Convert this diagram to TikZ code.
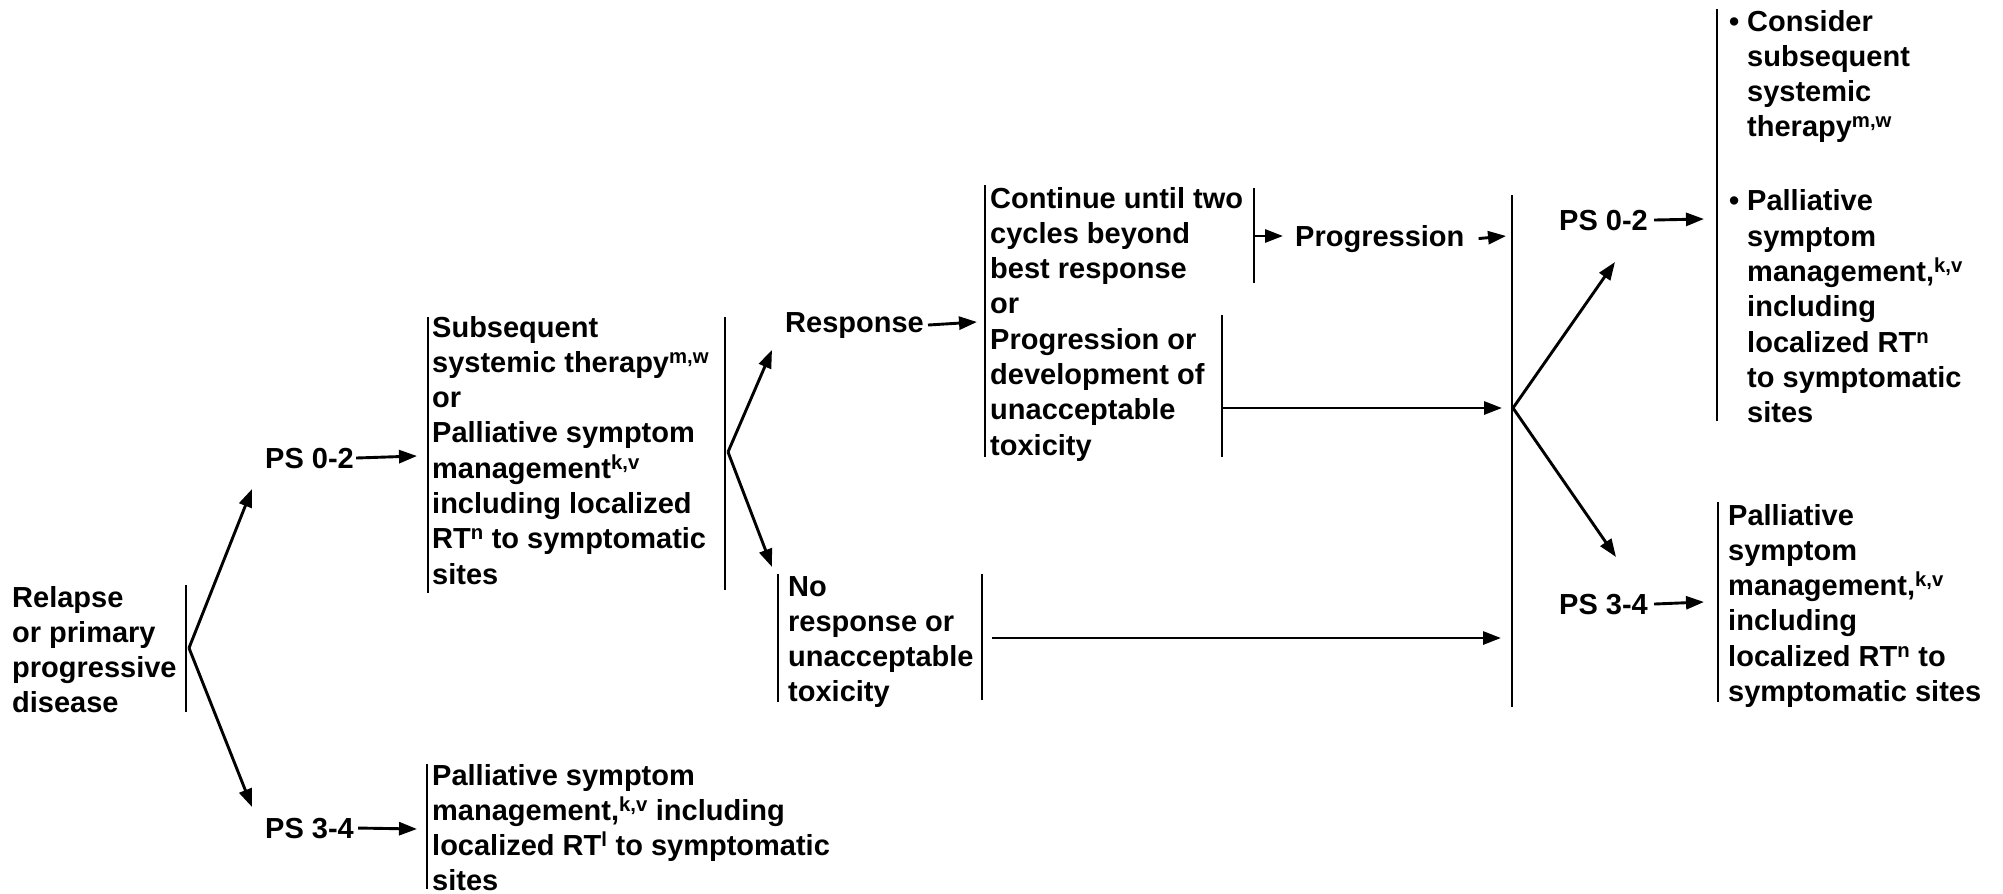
\documentclass[tikz,border=0pt]{standalone}
\usepackage{fontspec}
\setmainfont{Liberation Sans}
\usetikzlibrary{arrows.meta}
\newcommand{\sq}[1]{\textsuperscript{#1}}
\newcommand{\bl}{\makebox[18pt][l]{\textbullet}}
\newcommand{\nb}{\hspace*{18pt}}
\newcommand{\lines}[1]{\begin{tabular}[t]{@{}l@{}}#1\end{tabular}}
\begin{document}
\begin{tikzpicture}[x=1pt,y=-1pt,
  txt/.style={anchor=base west, inner sep=0pt, font=\fontsize{29}{35.3}\selectfont\bfseries},
  barline/.style={line width=2.9pt},
  arr/.style={line width=2.9pt,-{Triangle[length=18pt,width=13pt]}}]
\useasboundingbox (0,0) rectangle (2003,894);

% text nodes
\node[txt] (relapse) at (12,607) {\lines{Relapse\\or primary\\progressive\\disease}};
\node[txt] (ps02a) at (265,468) {PS 0-2};
\node[txt] (ps34a) at (265,838) {PS 3-4};
\node[txt] (sub) at (432,337) {\lines{Subsequent\\systemic therapy\sq{m,w}\\or\\Palliative symptom\\management\sq{k,v}\\including localized\\RT\sq{n} to symptomatic\\sites}};
\node[txt] (pal1) at (432,785) {\lines{Palliative symptom\\management,\sq{k,v} including\\localized RT\sq{l} to symptomatic\\sites}};
\node[txt] (resp) at (785,332) {Response};
\node[txt] (nore) at (788,596) {\lines{No\\response or\\unacceptable\\toxicity}};
\node[txt] (cont) at (990,208) {\lines{Continue until two\\cycles beyond\\best response\\or\\Progression or\\development of\\unacceptable\\toxicity}};
\node[txt] (prog) at (1295,246) {Progression};
\node[txt] (ps02b) at (1559,230) {PS 0-2};
\node[txt] (ps34b) at (1559,614) {PS 3-4};
\node[txt] (cons) at (1729,31) {\lines{\bl Consider\\\nb subsequent\\\nb systemic\\\nb therapy\sq{m,w}\\[38.7pt]\bl Palliative\\\nb symptom\\\nb management,\sq{k,v}\\\nb including\\\nb localized RT\sq{n}\\\nb to symptomatic\\\nb sites}};
\node[txt] (pal2) at (1728,525) {\lines{Palliative\\symptom\\management,\sq{k,v}\\including\\localized RT\sq{n} to\\symptomatic sites}};

% bars
\coordinate (b1t) at (186,585); \coordinate (b1b) at (186,712); \coordinate (br1) at (189,648);
\coordinate (b2t) at (428,317); \coordinate (b2b) at (428,593);
\coordinate (b3t) at (725,317); \coordinate (b3b) at (725,590); \coordinate (br2) at (728,452);
\coordinate (b4t) at (427,764); \coordinate (b4b) at (427,889);
\coordinate (b5t) at (985,185); \coordinate (b5b) at (985,457);
\coordinate (b6t) at (1254,188); \coordinate (b6b) at (1254,283);
\coordinate (b7t) at (1222,315); \coordinate (b7b) at (1222,457);
\coordinate (b8t) at (778,574); \coordinate (b8b) at (778,702);
\coordinate (b9t) at (982,574); \coordinate (b9b) at (982,700);
\coordinate (bbt) at (1512,195); \coordinate (bbb) at (1512,707); \coordinate (br3) at (1513,408);
\coordinate (b10t) at (1717,9); \coordinate (b10b) at (1717,421);
\coordinate (b11t) at (1718,502); \coordinate (b11b) at (1718,702);
\foreach \a/\b in {b1t/b1b,b2t/b2b,b3t/b3b,b4t/b4b,b5t/b5b,b6t/b6b,b7t/b7b,b8t/b8b,b9t/b9b,bbt/bbb,b10t/b10b,b11t/b11b}
  \draw[barline] (\a) -- (\b);

% arrow end points
\coordinate (t1) at (252,489); \coordinate (t2) at (252,807);
\coordinate (t3) at (417,456); \coordinate (t4) at (417,829);
\coordinate (t5) at (772,350); \coordinate (t6) at (772,567);
\coordinate (t7) at (977,322);
\coordinate (s8) at (1254,236); \coordinate (t8) at (1283,236);
\coordinate (t9) at (1506,236);
\coordinate (s10) at (1222,408); \coordinate (t10) at (1502,408);
\coordinate (s11) at (992,638); \coordinate (t11) at (1501,638);
\coordinate (t12) at (1615,262); \coordinate (t13) at (1616,557);
\coordinate (t14) at (1704,219); \coordinate (t15) at (1704,602);

\draw[arr] (br1) -- (t1);
\draw[arr] (br1) -- (t2);
\draw[arr] ([xshift=2pt]ps02a.east) -- (t3);
\draw[arr] ([xshift=4pt]ps34a.east) -- (t4);
\draw[arr] (br2) -- (t5);
\draw[arr] (br2) -- (t6);
\draw[arr] ([xshift=4pt]resp.east) -- (t7);
\draw[arr] (s8) -- (t8);
\draw[arr] ([xshift=14pt]prog.east) -- (t9);
\draw[arr] (s10) -- (t10);
\draw[arr] (s11) -- (t11);
\draw[arr] (br3) -- (t12);
\draw[arr] (br3) -- (t13);
\draw[arr] ([xshift=6pt]ps02b.east) -- (t14);
\draw[arr] ([xshift=6pt]ps34b.east) -- (t15);
\end{tikzpicture}
\end{document}
